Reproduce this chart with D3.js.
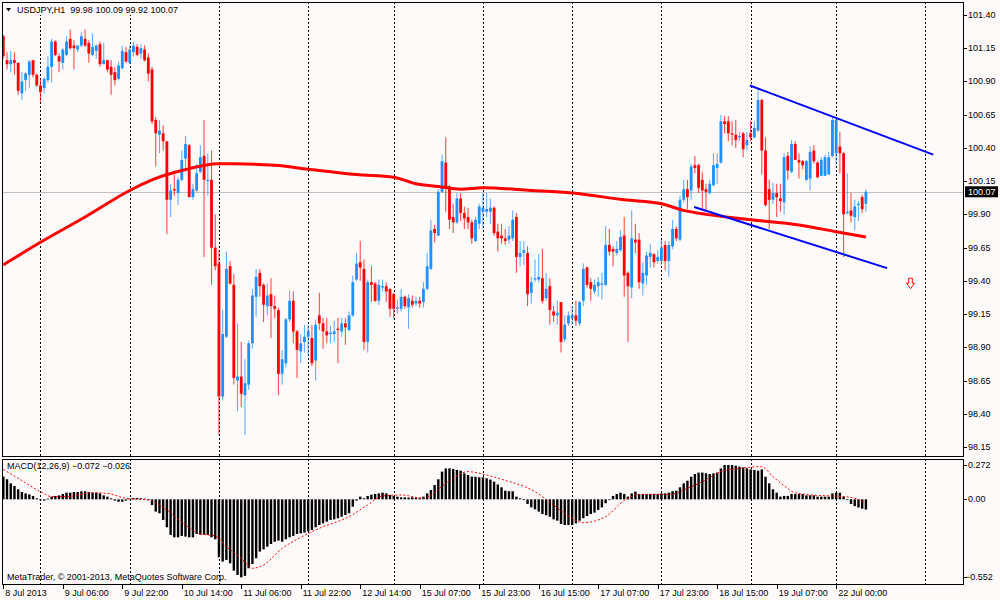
<!DOCTYPE html>
<html>
<head>
<meta charset="utf-8">
<script src="https://cdn.jsdelivr.net/npm/d3@7"></script>
<style>
  body { margin: 0; background: #fffafa; }
  text { font-family: "Liberation Sans", Arial, sans-serif; font-size: 9px; fill: #000; }
</style>
</head>
<body>
<svg id="chart" width="1000" height="600"></svg>
<script>
// USDJPY H1 candles, [open, high, low, close]
const candles = [
  [101.24,101.25,101.07,101.09],[101.06,101.12,100.99,101.03],[101.03,101.13,100.97,101.06],[101.06,101.12,100.95,101.04],
  [101.04,101.04,100.80,100.83],[100.81,100.97,100.76,100.90],[100.91,100.97,100.83,100.96],[100.95,101.06,100.85,101.05],
  [101.06,101.06,100.93,100.95],[100.95,100.96,100.86,100.87],[100.87,100.92,100.75,100.82],[100.85,100.93,100.81,100.92],
  [100.91,101.09,100.89,101.01],[101.01,101.22,100.89,101.20],[101.20,101.21,101.09,101.10],[101.09,101.11,100.97,101.05],
  [101.04,101.15,100.99,101.14],[101.10,101.24,101.09,101.20],[101.22,101.29,101.14,101.15],[101.17,101.21,100.99,101.15],
  [101.14,101.17,101.12,101.17],[101.17,101.27,101.16,101.24],[101.22,101.29,101.16,101.17],[101.19,101.21,101.04,101.11],
  [101.10,101.26,101.09,101.16],[101.13,101.18,101.07,101.17],[101.18,101.20,101.01,101.03],[101.03,101.19,101.03,101.06],
  [101.06,101.06,100.97,100.99],[101.01,101.06,100.80,100.95],[100.97,101.01,100.87,100.91],[100.92,101.05,100.91,101.02],
  [101.00,101.17,100.99,101.13],[101.12,101.16,101.04,101.05],[101.04,101.17,101.03,101.14],[101.12,101.20,101.09,101.17],
  [101.16,101.18,101.09,101.10],[101.11,101.18,101.07,101.15],[101.14,101.17,101.05,101.06],[101.08,101.11,100.90,100.96],
  [100.99,101.01,100.58,100.60],[100.61,100.63,100.26,100.51],[100.50,100.61,100.36,100.53],[100.51,100.57,100.38,100.45],
  [100.45,100.45,99.75,100.01],[100.01,100.13,99.88,100.08],[100.09,100.20,100.04,100.08],[100.06,100.18,99.97,100.16],
  [100.16,100.38,100.15,100.31],[100.32,100.49,100.22,100.43],[100.42,100.43,100.03,100.03],[100.03,100.13,100.01,100.09],
  [100.08,100.28,100.07,100.21],[100.22,100.42,100.21,100.33],[100.34,100.61,99.58,100.16],[100.15,100.36,100.04,100.16],
  [100.16,100.38,99.37,99.65],[99.65,99.90,99.48,99.51],[99.53,99.63,98.24,98.53],[98.53,99.18,98.50,99.00],
  [98.98,99.62,98.97,99.49],[99.51,99.55,99.37,99.38],[99.37,99.45,98.62,98.67],[98.65,99.08,98.42,98.68],
  [98.68,98.94,98.45,98.55],[98.54,98.81,98.24,98.63],[98.62,98.95,98.58,98.93],[98.93,99.34,98.89,99.29],
  [99.28,99.49,99.13,99.43],[99.46,99.49,99.28,99.36],[99.37,99.38,99.09,99.22],[99.21,99.38,99.14,99.29],
  [99.30,99.42,98.97,99.21],[99.21,99.29,99.12,99.19],[99.18,99.20,98.54,98.70],[98.70,98.88,98.62,98.81],
  [98.78,99.12,98.75,99.11],[99.11,99.33,99.09,99.25],[99.25,99.32,98.93,99.02],[99.02,99.03,98.67,98.88],
  [98.87,99.00,98.78,98.93],[98.94,99.07,98.86,98.98],[98.98,99.07,98.83,99.02],[98.97,99.07,98.76,98.78],
  [98.80,99.11,98.65,99.07],[99.14,99.31,99.03,99.08],[99.08,99.12,98.89,99.02],[99.02,99.12,98.93,98.99],
  [99.00,99.06,98.93,99.01],[99.00,99.10,98.94,99.02],[99.04,99.12,98.78,99.03],[99.02,99.12,98.98,99.08],
  [99.08,99.12,98.92,99.05],[99.03,99.17,99.02,99.14],[99.14,99.44,99.13,99.39],[99.41,99.61,99.40,99.53],
  [99.54,99.70,99.40,99.50],[99.49,99.56,98.88,98.94],[98.94,99.41,98.86,99.39],[99.39,99.51,99.24,99.37],
  [99.38,99.39,99.24,99.25],[99.25,99.41,99.22,99.37],[99.35,99.41,99.32,99.36],[99.36,99.39,99.24,99.32],
  [99.34,99.34,99.13,99.19],[99.30,99.31,99.12,99.19],[99.19,99.26,99.15,99.20],[99.19,99.34,99.17,99.28],
  [99.28,99.29,99.19,99.21],[99.20,99.30,99.04,99.27],[99.25,99.29,99.20,99.22],[99.23,99.28,99.21,99.25],
  [99.25,99.28,99.20,99.23],[99.24,99.39,99.20,99.34],[99.34,99.61,99.33,99.51],[99.49,99.86,99.48,99.78],
  [99.79,99.82,99.69,99.76],[99.74,100.09,99.74,100.07],[100.07,100.35,100.06,100.30],[100.29,100.48,99.92,100.10],
  [100.11,100.12,99.79,99.86],[99.88,99.98,99.76,99.84],[99.84,100.06,99.83,100.02],[100.02,100.06,99.85,99.91],
  [99.91,99.96,99.79,99.87],[99.88,99.95,99.79,99.84],[99.84,99.86,99.68,99.72],[99.70,99.88,99.69,99.86],
  [99.83,99.98,99.79,99.96],[99.92,100.06,99.79,99.95],[99.92,100.06,99.88,99.94],[99.92,100.02,99.83,99.95],
  [99.95,99.96,99.74,99.76],[99.77,99.83,99.62,99.72],[99.74,99.83,99.68,99.72],[99.72,99.79,99.67,99.70],
  [99.71,99.81,99.68,99.74],[99.72,99.93,99.70,99.86],[99.88,99.91,99.46,99.58],[99.58,99.70,99.51,99.61],
  [99.61,99.70,99.52,99.63],[99.61,99.66,99.21,99.30],[99.31,99.43,99.23,99.39],[99.41,99.56,99.39,99.42],
  [99.41,99.60,99.39,99.43],[99.42,99.64,99.23,99.25],[99.27,99.46,99.25,99.34],[99.36,99.42,99.07,99.18],
  [99.17,99.21,99.09,99.14],[99.14,99.25,99.07,99.16],[99.24,99.24,98.86,98.94],[98.96,99.14,98.94,99.07],
  [99.08,99.17,99.06,99.14],[99.12,99.21,99.07,99.14],[99.14,99.25,99.06,99.10],[99.08,99.25,99.06,99.24],
  [99.25,99.53,99.21,99.49],[99.50,99.51,99.35,99.37],[99.39,99.42,99.25,99.34],[99.32,99.41,99.30,99.37],
  [99.36,99.43,99.28,99.39],[99.37,99.46,99.26,99.38],[99.37,99.81,99.36,99.67],[99.67,99.79,99.59,99.62],
  [99.64,99.66,99.51,99.62],[99.61,99.70,99.59,99.64],[99.63,99.78,99.62,99.73],[99.74,99.88,99.28,99.44],
  [99.46,99.47,98.94,99.36],[99.35,99.93,99.27,99.72],[99.71,99.83,99.61,99.69],[99.71,99.76,99.34,99.39],
  [99.38,99.54,99.29,99.46],[99.44,99.62,99.37,99.59],[99.58,99.68,99.50,99.61],[99.60,99.61,99.50,99.54],
  [99.55,99.63,99.53,99.58],[99.55,99.71,99.52,99.65],[99.67,99.70,99.48,99.55],[99.55,99.70,99.43,99.67],
  [99.66,99.86,99.64,99.79],[99.79,99.81,99.70,99.72],[99.71,100.04,99.70,100.01],[100.01,100.16,99.99,100.09],
  [100.09,100.16,99.94,100.03],[100.08,100.28,100.01,100.26],[100.27,100.34,100.21,100.25],[100.27,100.28,100.06,100.10],
  [100.16,100.22,99.93,100.08],[100.09,100.13,99.93,100.07],[100.06,100.16,100.05,100.13],[100.12,100.36,100.11,100.27],
  [100.25,100.36,100.13,100.28],[100.29,100.65,100.28,100.60],[100.60,100.64,100.51,100.58],[100.60,100.64,100.45,100.51],
  [100.51,100.60,100.42,100.50],[100.50,100.61,100.40,100.46],[100.48,100.52,100.45,100.49],[100.51,100.52,100.33,100.39],
  [100.42,100.52,100.38,100.46],[100.51,100.60,100.45,100.48],[100.48,100.60,100.47,100.55],[100.53,100.84,100.52,100.76],
  [100.76,100.77,100.20,100.38],[100.38,100.48,99.96,99.97],[100.09,100.16,99.79,100.01],[100.01,100.14,99.98,100.06],
  [100.06,100.13,99.88,100.03],[100.02,100.13,99.92,100.00],[99.99,100.36,99.90,100.33],[100.34,100.37,100.16,100.23],
  [100.22,100.46,100.21,100.43],[100.43,100.45,100.31,100.31],[100.31,100.36,100.17,100.29],[100.30,100.31,100.24,100.27],
  [100.16,100.31,100.15,100.30],[100.17,100.41,100.08,100.37],[100.38,100.42,100.28,100.30],[100.29,100.30,100.17,100.18],
  [100.19,100.33,100.19,100.31],[100.19,100.35,100.19,100.33],[100.20,100.37,100.20,100.33],[100.34,100.63,100.33,100.61],
  [100.36,100.63,100.28,100.61],[100.41,100.52,100.21,100.36],[100.36,100.37,99.58,99.90],[99.91,100.21,99.90,99.92],
  [99.93,100.06,99.84,99.89],[99.88,100.01,99.78,99.96],[99.97,100.00,99.85,99.98],[100.03,100.05,99.91,99.94],
  [99.98,100.09,99.92,100.07]
];

// moving average (red line), sampled at bar indices
const maBars   = [0, 10, 22, 34, 40, 48, 58, 62, 73, 82, 95, 105, 111, 117, 123, 129, 142, 153, 167, 177, 183, 189, 201, 214, 224, 232];
const maValues = [99.52, 99.69, 99.88, 100.08, 100.16, 100.23, 100.28, 100.28, 100.27, 100.24, 100.20, 100.18, 100.13, 100.11,
                  100.09, 100.10, 100.08, 100.06, 100.01, 99.98, 99.93, 99.90, 99.86, 99.82, 99.77, 99.73];

// MACD(12,26,9) main values, one per bar
const macdHist = [
  0.160, 0.142, 0.113, 0.094, 0.071, 0.052, 0.042, 0.035, 0.024, 0.007,
  -0.005, -0.009, 0.005, 0.019, 0.024, 0.028, 0.038, 0.047, 0.047, 0.052,
  0.052, 0.057, 0.057, 0.052, 0.047, 0.047, 0.042, 0.028, 0.019, 0.007,
  -0.009, -0.017, -0.017, -0.009, 0.005, 0.009, 0.009, 0.007, 0.005, -0.005,
  -0.040, -0.087, -0.099, -0.146, -0.198, -0.252, -0.269, -0.269, -0.259, -0.264,
  -0.269, -0.269, -0.245, -0.250, -0.250, -0.252, -0.269, -0.283, -0.410, -0.441,
  -0.429, -0.453, -0.505, -0.535, -0.552, -0.542, -0.488, -0.458, -0.417, -0.370,
  -0.354, -0.335, -0.316, -0.300, -0.292, -0.300, -0.283, -0.269, -0.259, -0.245,
  -0.241, -0.236, -0.226, -0.217, -0.198, -0.182, -0.170, -0.158, -0.146, -0.142,
  -0.134, -0.123, -0.111, -0.099, -0.052, -0.009, 0.019, 0.007, 0.024, 0.033,
  0.038, 0.042, 0.047, 0.042, 0.031, 0.024, 0.019, 0.014, 0.014, 0.012,
  0.014, 0.012, 0.012, 0.019, 0.042, 0.066, 0.101, 0.142, 0.196, 0.219,
  0.219, 0.215, 0.208, 0.203, 0.184, 0.172, 0.160, 0.160, 0.156, 0.156,
  0.149, 0.140, 0.125, 0.105,
  0.085, 0.061, 0.057, 0.057, 0.019, 0.007, -0.005, -0.033, -0.057, -0.071,
  -0.087, -0.104, -0.113, -0.123, -0.142, -0.151, -0.175, -0.182, -0.182, -0.182,
  -0.170, -0.151, -0.134, -0.118, -0.104, -0.094, -0.075, -0.057, -0.028, -0.005,
  0.024, 0.038, 0.047, 0.038, 0.019, 0.042, 0.054, 0.038, 0.038, 0.038,
  0.038, 0.038, 0.038, 0.042, 0.042, 0.047, 0.057, 0.061, 0.085, 0.113,
  0.132, 0.160, 0.179, 0.189, 0.189, 0.184, 0.179, 0.184, 0.189, 0.219,
  0.243, 0.243, 0.243, 0.238, 0.231, 0.226, 0.219, 0.212, 0.208, 0.203,
  0.212, 0.160, 0.113, 0.071, 0.047, 0.019, 0.024, 0.024, 0.038, 0.038,
  0.038, 0.038, 0.028, 0.028, 0.028, 0.019, 0.019, 0.019, 0.019, 0.042,
  0.047, 0.047, 0.019, 0.000, -0.033, -0.048, -0.058, -0.066, -0.072
];

// MACD signal line (red dotted), sampled
const signalBars   = [0, 4, 10, 13, 17, 24, 28, 33, 39, 44, 49, 53, 57, 60, 64, 67, 70, 75, 80, 85, 93, 98, 102, 107, 113,
                      119, 125, 129, 134, 143, 148, 152, 156, 162, 167, 171, 179, 184, 188, 193, 198, 204, 207, 210, 213, 219, 223, 228, 232];
const signalValues = [0.212, 0.149, 0.054, 0.019, 0.019, 0.047, 0.042, 0.007, -0.005, -0.075, -0.182, -0.245, -0.259, -0.335, -0.417,
                      -0.488, -0.465, -0.347, -0.269, -0.205, -0.123, -0.040, 0.024, 0.031, 0.007, 0.113, 0.196, 0.179, 0.142,
                      0.054, -0.040, -0.118, -0.165, -0.123, -0.009, 0.035, 0.035, 0.078, 0.125, 0.196, 0.219, 0.231, 0.160,
                      0.097, 0.046, 0.028, 0.024, 0.014, -0.026];

// hand drawn objects: trend lines [bar, price] and the sell arrow
const trendLines = [
  [[200.8, 100.87], [250.1, 100.35]],
  [[185.8, 99.955], [237.7, 99.496]]
];
const arrowBar = 244, arrowPrice = 99.42;

// axes
const priceTicks = [98.15, 98.40, 98.65, 98.90, 99.15, 99.40, 99.65, 99.90, 100.15, 100.40, 100.65, 100.90, 101.15, 101.40];
const macdTicks = [0.272, 0.00, -0.552];
const timeLabels = ["8 Jul 2013", "9 Jul 06:00", "9 Jul 22:00", "10 Jul 14:00", "11 Jul 06:00", "11 Jul 22:00", "12 Jul 14:00",
                    "15 Jul 07:00", "15 Jul 23:00", "16 Jul 15:00", "17 Jul 07:00", "17 Jul 23:00", "18 Jul 15:00",
                    "19 Jul 07:00", "22 Jul 00:00"];
const timeLabelBars = [0, 16, 32, 48, 64, 80, 96, 112, 128, 144, 160, 176, 192, 208, 224];
const gridBars = [10, 34, 58, 82, 105, 129, 153, 177, 201, 224, 248];

const symbol = "USDJPY", period = "H1";

// layout
const MAIN = {left: 2, right: 963, top: 2, bottom: 456};
const SUB = {left: 2, right: 963, top: 459, bottom: 584};
const BULL = "#1e90ff", BEAR = "#ff0000";

const svg = d3.select("#chart");
svg.append("rect").attr("width", 1000).attr("height", 600).attr("fill", "#fffafa");

const x = d3.scaleLinear().domain([0, candles.length - 1]).range([3.3, 865.9]);
const y = d3.scaleLinear().domain([98.15, 101.40]).range([447, 15]);
const yM = d3.scaleLinear().domain([-0.552, 0.272]).range([577.3, 460.9]);
const fmt2 = d3.format(".2f"), fmt3 = d3.format(".3f");

const defs = svg.append("defs");
[["clipMain", MAIN], ["clipSub", SUB]].forEach(([id, p]) => {
  defs.append("clipPath").attr("id", id).append("rect")
    .attr("x", p.left).attr("y", p.top).attr("width", p.right - p.left).attr("height", p.bottom - p.top);
});

const gMain = svg.append("g").attr("clip-path", "url(#clipMain)");
const gSub = svg.append("g").attr("clip-path", "url(#clipSub)");

// dotted vertical grid in both windows
[[gMain, MAIN], [gSub, SUB]].forEach(([g, p]) => {
  g.selectAll("line.grid").data(gridBars).join("line")
    .attr("class", "grid")
    .attr("x1", d => Math.round(x(d)) + 0.5).attr("x2", d => Math.round(x(d)) + 0.5)
    .attr("y1", p.top).attr("y2", p.bottom)
    .attr("stroke", "#000").attr("stroke-width", 1).attr("stroke-dasharray", "2,2");
});

// current price line
const last = candles[candles.length - 1];
gMain.append("line")
  .attr("x1", MAIN.left).attr("x2", MAIN.right)
  .attr("y1", Math.round(y(last[3])) + 0.5).attr("y2", Math.round(y(last[3])) + 0.5)
  .attr("stroke", "#c0c0c0").attr("stroke-width", 1);

// candles
const cg = gMain.append("g");
cg.selectAll("line.wick").data(candles).join("line")
  .attr("class", "wick")
  .attr("x1", (d, i) => x(i)).attr("x2", (d, i) => x(i))
  .attr("y1", d => y(d[1])).attr("y2", d => y(d[2]))
  .attr("stroke", d => d[3] >= d[0] ? BULL : BEAR)
  .attr("stroke-width", 1.1).attr("stroke-opacity", 0.7);
cg.selectAll("rect.body").data(candles).join("rect")
  .attr("class", "body")
  .attr("x", (d, i) => x(i) - 1.4).attr("width", 2.8)
  .attr("y", d => y(Math.max(d[0], d[3])))
  .attr("height", d => Math.max(1, Math.abs(y(d[0]) - y(d[3]))))
  .attr("fill", d => d[3] >= d[0] ? BULL : BEAR);

// moving average
const maLine = d3.line().x(d => x(d[0])).y(d => y(d[1])).curve(d3.curveMonotoneX);
gMain.append("path")
  .datum(maBars.map((b, i) => [b, maValues[i]]))
  .attr("d", maLine).attr("fill", "none")
  .attr("stroke", "#ff0000").attr("stroke-width", 3);

// trend lines
gMain.selectAll("line.trend").data(trendLines).join("line")
  .attr("class", "trend")
  .attr("x1", d => x(d[0][0])).attr("y1", d => y(d[0][1]))
  .attr("x2", d => x(d[1][0])).attr("y2", d => y(d[1][1]))
  .attr("stroke", "#0000ff").attr("stroke-width", 2);

// sell arrow
const ax = x(arrowBar), ay = y(arrowPrice);
gMain.append("path")
  .attr("d", `M${ax - 1.8},${ay} h3.6 v5 h2.2 l-4,5.5 l-4,-5.5 h2.2 Z`)
  .attr("fill", "#fff").attr("stroke", "#ff0000").attr("stroke-width", 1);

// MACD histogram and signal
gSub.selectAll("rect.hist").data(macdHist).join("rect")
  .attr("class", "hist")
  .attr("x", (d, i) => x(i) - 1.2).attr("width", 2.4)
  .attr("y", d => Math.min(yM(d), yM(0)))
  .attr("height", d => Math.max(0.8, Math.abs(yM(d) - yM(0))))
  .attr("fill", "#000");
const sigLine = d3.line().x(d => x(d[0])).y(d => yM(d[1])).curve(d3.curveMonotoneX);
gSub.append("path")
  .datum(signalBars.map((b, i) => [b, signalValues[i]]))
  .attr("d", sigLine).attr("fill", "none")
  .attr("stroke", "#ff0000").attr("stroke-width", 1).attr("stroke-dasharray", "2,2");

// window borders
[MAIN, SUB].forEach(p => {
  svg.append("rect")
    .attr("x", p.left + 0.5).attr("y", p.top + 0.5)
    .attr("width", p.right - p.left).attr("height", p.bottom - p.top)
    .attr("fill", "none").attr("stroke", "#000").attr("stroke-width", 1);
});

// price scale
const pa = svg.append("g");
pa.selectAll("line").data(priceTicks).join("line")
  .attr("x1", MAIN.right + 1).attr("x2", MAIN.right + 4)
  .attr("y1", d => Math.round(y(d)) + 0.5).attr("y2", d => Math.round(y(d)) + 0.5)
  .attr("stroke", "#000");
pa.selectAll("text").data(priceTicks).join("text")
  .attr("x", 968).attr("y", d => y(d)).attr("dominant-baseline", "central")
  .text(d => fmt2(d));

// current price tag
svg.append("rect").attr("x", 965).attr("y", y(last[3]) - 5.5).attr("width", 33).attr("height", 11).attr("fill", "#000");
svg.append("text").attr("x", 968).attr("y", y(last[3])).attr("dominant-baseline", "central")
  .style("fill", "#fff").text(fmt2(last[3]));

// MACD scale
const ma = svg.append("g");
const macdLabelY = v => Math.min(Math.max(yM(v), SUB.top + 6), SUB.bottom - 7);
ma.selectAll("line").data(macdTicks).join("line")
  .attr("x1", SUB.right + 1).attr("x2", SUB.right + 4)
  .attr("y1", d => Math.round(macdLabelY(d)) + 0.5).attr("y2", d => Math.round(macdLabelY(d)) + 0.5)
  .attr("stroke", "#000");
ma.selectAll("text").data(macdTicks).join("text")
  .attr("x", d => d < 0 ? 965 : 968).attr("y", macdLabelY).attr("dominant-baseline", "central")
  .text(d => d === 0 ? "0.00" : fmt3(d));

// time scale
const ta = svg.append("g");
ta.selectAll("line").data(timeLabelBars).join("line")
  .attr("x1", d => Math.round(x(d)) + 0.5).attr("x2", d => Math.round(x(d)) + 0.5)
  .attr("y1", SUB.bottom + 1).attr("y2", SUB.bottom + 5)
  .attr("stroke", "#000");
ta.selectAll("text").data(timeLabelBars).join("text")
  .attr("x", d => x(d) + 2).attr("y", 593).attr("dominant-baseline", "central")
  .text((d, i) => timeLabels[i]);

// header (on its own background, grid hidden behind it) and indicator captions
svg.append("rect").attr("x", 3).attr("y", 3).attr("width", 173).attr("height", 12).attr("fill", "#fffafa");
svg.append("path").attr("d", "M6,8 L11,8 L8.5,11.5 Z").attr("fill", "#000");
svg.append("text").attr("x", 17).attr("y", 10).attr("dominant-baseline", "central")
  .style("white-space", "pre")
  .text(`${symbol},${period}  ${fmt2(last[0])} ${fmt2(last[1])} ${fmt2(last[2])} ${fmt2(last[3])}`);
svg.append("text").attr("x", 7).attr("y", 466).attr("dominant-baseline", "central")
  .text(`MACD(12,26,9) ${fmt3(macdHist[macdHist.length - 1])} ${fmt3(signalValues[signalValues.length - 1])}`);
svg.append("text").attr("x", 7).attr("y", 577).attr("dominant-baseline", "central")
  .text("MetaTrader, \u00a9 2001-2013, MetaQuotes Software Corp.");
</script>
</body>
</html>
